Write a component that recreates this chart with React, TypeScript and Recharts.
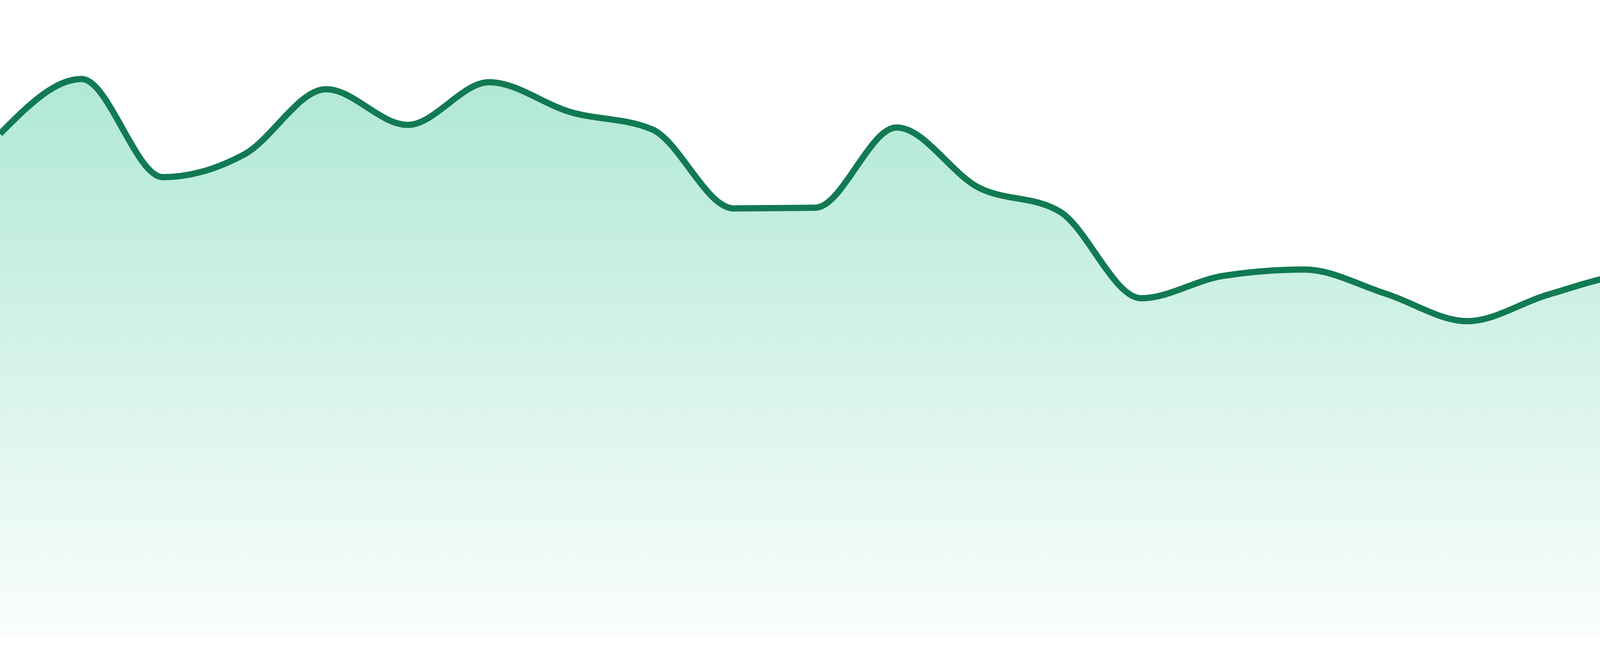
import React from 'react';
import { AreaChart, Area, XAxis, YAxis } from 'recharts';

// 24 evenly spaced samples (0-100 scale)
const periods = [
  'P01', 'P02', 'P03', 'P04', 'P05', 'P06', 'P07', 'P08',
  'P09', 'P10', 'P11', 'P12', 'P13', 'P14', 'P15', 'P16',
  'P17', 'P18', 'P19', 'P20', 'P21', 'P22', 'P23', 'P24',
];

const values = [
  79.0, 87.6, 72.2, 75.8, 86.0, 80.4, 87.1, 82.4,
  79.7, 67.3, 67.4, 80.0, 70.6, 66.8, 53.2, 56.7,
  57.7, 53.9, 49.6, 53.8, 56.8, 56.9, 60.0, 55.3,
];

const yDomain = [0, 100];

const LINE = '#117a52';
const FILL = '#10b981';

const data = periods.map((p, i) => ({ period: p, value: values[i] }));

const App: React.FC = () => {
  return (
    <div style={{ width: 4800, height: 1680, background: '#ffffff' }}>
      <style>{`body { margin: 0; }`}</style>
      <AreaChart
        width={4800}
        height={1680}
        data={data}
        margin={{ top: 0, right: 0, bottom: 48, left: 0 }}
      >
        <defs>
          <linearGradient id="areaFill" x1="0" y1="0" x2="0" y2="1">
            <stop offset="0%" stopColor={FILL} stopOpacity={0.33} />
            <stop offset="100%" stopColor={FILL} stopOpacity={0.02} />
          </linearGradient>
        </defs>
        <XAxis dataKey="period" hide padding={{ left: 0, right: 0 }} />
        <YAxis hide domain={yDomain} />
        <Area
          type="monotone"
          dataKey="value"
          stroke={LINE}
          strokeWidth={16}
          fill="url(#areaFill)"
          fillOpacity={1}
          dot={false}
          activeDot={false}
          isAnimationActive={false}
        />
      </AreaChart>
    </div>
  );
};

export default App;
